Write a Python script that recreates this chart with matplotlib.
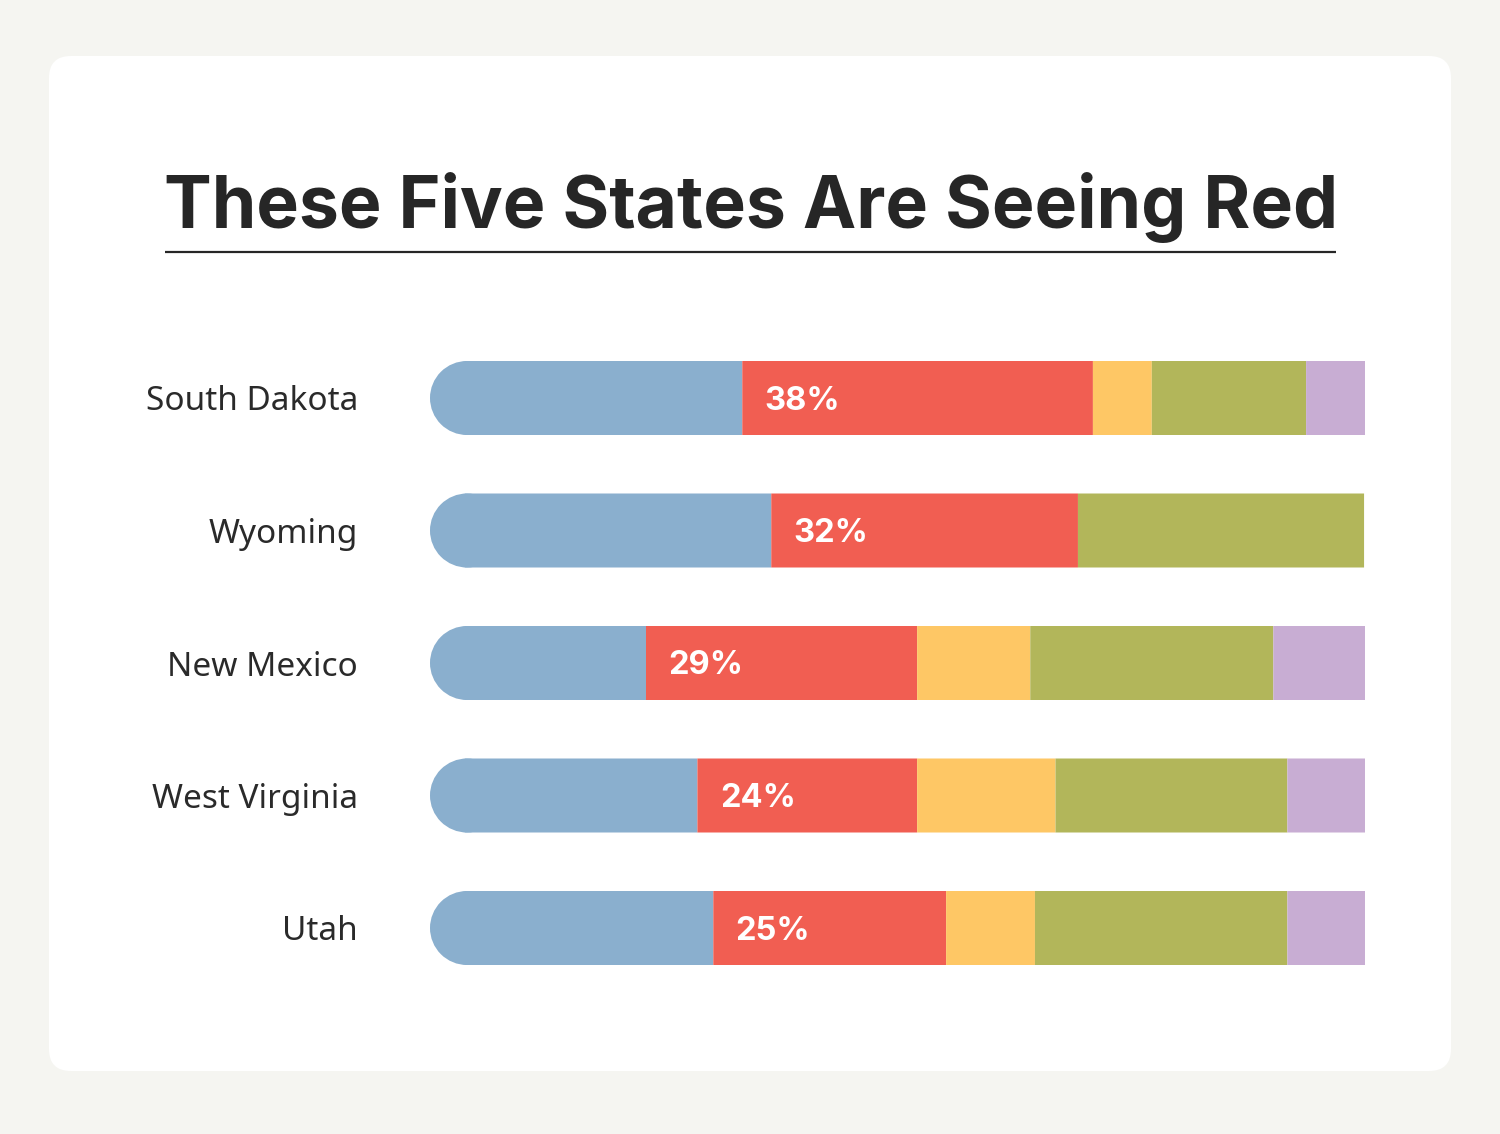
import matplotlib
matplotlib.use("Agg")
import matplotlib.pyplot as plt
from matplotlib.patches import FancyBboxPatch, Ellipse
import numpy as np

states = ["South Dakota", "Wyoming", "New Mexico", "West Virginia", "Utah"]
blue = [33.4, 36.5, 23.1, 28.6, 30.3]
red = [37.5, 32.8, 29.0, 23.5, 24.9]
yellow = [6.3, 0.0, 12.1, 14.8, 9.5]
green = [16.5, 30.6, 26.0, 24.8, 27.0]
purple = [6.3, 0.0, 10.1, 8.3, 8.3]
red_labels = ["38%", "32%", "29%", "24%", "25%"]

colors = {"blue": "#8AAFCE", "red": "#F15E52", "yellow": "#FEC765",
          "green": "#B2B65A", "purple": "#C8ADD3"}

W, H = 1500, 1134
fig = plt.figure(figsize=(W / 100, H / 100), dpi=100)
fig.patch.set_facecolor("#F5F5F1")

# background card
bg = fig.add_axes([0, 0, 1, 1])
bg.set_xlim(0, W)
bg.set_ylim(H, 0)
bg.axis("off")
card = FancyBboxPatch((49 + 22, 56 + 22), 1402 - 44, 1015 - 44,
                      boxstyle="round,pad=22", fc="white", ec="none")
bg.add_patch(card)
bg.text(751, 228, "These Five States Are Seeing Red", ha="center", va="baseline",
        fontsize=51.5, fontweight="bold", color="#262626", family="Inter")
bg.plot([165, 1336], [252, 252], color="#262626", lw=1.6, solid_capstyle="butt")

# bars
left_px, right_px = 430, 1365
top_px, bot_px = 398 - 66.25, 928 + 66.25
ax = fig.add_axes([left_px / W, 1 - bot_px / H, (right_px - left_px) / W, (bot_px - top_px) / H])
ax.set_xlim(0, 100)
ax.set_ylim(len(states) - 0.5, -0.5)
ax.axis("off")

bar_h_px = 74
bar_h = bar_h_px / 132.5
px_per_unit = (right_px - left_px) / 100.0
r_units = (bar_h_px / 2) / px_per_unit

y = np.arange(len(states))
b = np.array(blue)
# blue segment with rounded left end
start = r_units - 0.25
bars = ax.barh(y, b - start, left=start, height=bar_h, color=colors["blue"], lw=0)
for p in bars:
    p.set_snap(False)
for yi in y:
    e = Ellipse((r_units, yi), 2 * r_units, bar_h, fc=colors["blue"], ec="none")
    e.set_snap(False)
    ax.add_patch(e)
left = b.copy()
for name, vals in [("red", red), ("yellow", yellow), ("green", green), ("purple", purple)]:
    v = np.array(vals)
    bars = ax.barh(y, v, left=left, height=bar_h, color=colors[name], lw=0)
    for p in bars:
        p.set_snap(False)
    left = left + v

for yi, lab in zip(y, red_labels):
    ax.text(blue[yi] + 2.4, yi + 3 / 132.5, lab, ha="left", va="center", fontsize=23.5,
            fontweight="bold", color="white", family="Inter")

for yi, s in zip(y, states):
    bg.text(358, 402 + 132.5 * yi, s, ha="right", va="center", fontsize=24,
            color="#2a2a2a", family="Noto Sans")

fig.savefig("out.png", dpi=100, facecolor=fig.get_facecolor())
